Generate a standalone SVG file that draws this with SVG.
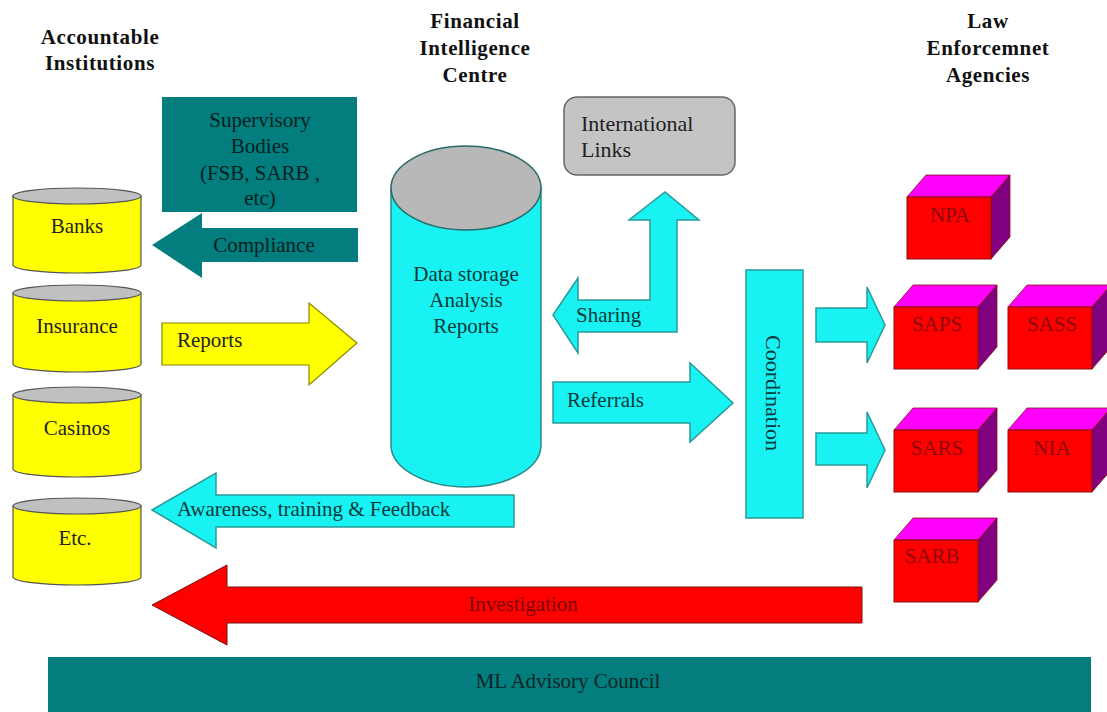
<svg xmlns="http://www.w3.org/2000/svg" width="1107" height="712" viewBox="0 0 1107 712">
<style>
text{font-family:"Liberation Serif","Times New Roman",serif;font-size:21px}
.hdr{font-weight:bold;fill:#111;text-anchor:middle;letter-spacing:0.6px}
.c{text-anchor:middle}
.dt{fill:#063a3a}
.dk{fill:#012222}
.cyl{fill:#ffff00;stroke:#555;stroke-width:1.2}
.cyltop{fill:#c0c0c0;stroke:#555;stroke-width:1.2}
.cya{fill:#19f2f2;stroke:#2a9a9a;stroke-width:1.5}
.teal{fill:#037d7d}
.red{fill:#ff0000;stroke:#7a1010;stroke-width:1}
.ylw{fill:#ffff00;stroke:#888800;stroke-width:1.2}
.front{fill:#ff0000;stroke:#8a1010;stroke-width:1}
.top{fill:#ff00ff;stroke:#8a1010;stroke-width:0.8}
.side{fill:#800080;stroke:#8a1010;stroke-width:0.8}
.cl{fill:#8b0a0a;text-anchor:middle}
</style>
<defs>
<g id="cube">
<polygon class="top" points="0,0 19,-22 103,-22 84,0"/>
<polygon class="side" points="84,0 103,-22 103,40 84,62"/>
<rect class="front" x="0" y="0" width="84" height="62"/>
</g>
</defs>
<rect width="1107" height="712" fill="#ffffff"/>

<g id="headers">
<text class="hdr" x="100" y="44">Accountable</text>
<text class="hdr" x="100" y="70">Institutions</text>
<text class="hdr" x="475" y="28">Financial</text>
<text class="hdr" x="475" y="55">Intelligence</text>
<text class="hdr" x="475" y="82">Centre</text>
<text class="hdr" x="988" y="28">Law</text>
<text class="hdr" x="988" y="55">Enforcemnet</text>
<text class="hdr" x="988" y="82">Agencies</text>
</g>

<g id="connectors">
<g id="compliance">
<path class="teal" d="M152 245 L202 213 L202 228 L358 228 L358 262 L202 262 L202 278 Z"/>
<text class="c dk" x="264" y="252">Compliance</text>
</g>
<g id="reports">
<path class="ylw" d="M162 323 L309 323 L309 303 L357 343 L309 385 L309 365 L162 365 Z"/>
<text x="177" y="347" fill="#222">Reports</text>
</g>
<g id="sharing">
<path class="cya" d="M553 315 L578 278 L578 300 L650 300 L650 220 L629 220 L665 192 L699 220 L677 220 L677 332 L578 332 L578 353 Z"/>
<text class="dt" x="576" y="322">Sharing</text>
</g>
<g id="referrals">
<path class="cya" d="M553 382 L690 382 L690 363 L733 403 L690 442 L690 423 L553 423 Z"/>
<text class="dt" x="567" y="407">Referrals</text>
</g>
<g id="awareness">
<path class="cya" d="M152 510 L216 473 L216 495 L514 495 L514 527 L216 527 L216 548 Z"/>
<text class="dt" x="177" y="516">Awareness, training &amp; Feedback</text>
</g>
<path class="cya" d="M816 308 L867 308 L867 287 L885 325 L867 363 L867 342 L816 342 Z"/>
<path class="cya" d="M816 433 L867 433 L867 412 L885 450 L867 488 L867 465 L816 465 Z"/>
<g id="investigation">
<path class="red" d="M152 605 L227 565 L227 587 L862 587 L862 623 L227 623 L227 645 Z"/>
<text x="523" y="611" fill="#7a0505" class="c">Investigation</text>
</g>
</g>

<g id="supervisory">
<rect class="teal" x="162" y="97" width="195" height="115"/>
<text class="c dk" x="260" y="127">Supervisory</text>
<text class="c dk" x="260" y="153">Bodies</text>
<text class="c dk" x="260" y="180">(FSB, SARB ,</text>
<text class="c dk" x="260" y="205">etc)</text>
</g>

<g id="banks">
<path class="cyl" d="M13 196 L13 265 A64 8 0 0 0 141 265 L141 196 Z"/>
<ellipse class="cyltop" cx="77" cy="196" rx="64" ry="8"/>
<text class="c" x="77" y="233" fill="#222">Banks</text>
</g>
<g id="insurance">
<path class="cyl" d="M13 293 L13 364 A64 8 0 0 0 141 364 L141 293 Z"/>
<ellipse class="cyltop" cx="77" cy="293" rx="64" ry="8"/>
<text class="c" x="77" y="333" fill="#222">Insurance</text>
</g>
<g id="casinos">
<path class="cyl" d="M13 395 L13 469 A64 8 0 0 0 141 469 L141 395 Z"/>
<ellipse class="cyltop" cx="77" cy="395" rx="64" ry="8"/>
<text class="c" x="77" y="435" fill="#222">Casinos</text>
</g>
<g id="etc">
<path class="cyl" d="M13 506 L13 577 A64 8 0 0 0 141 577 L141 506 Z"/>
<ellipse class="cyltop" cx="77" cy="506" rx="64" ry="8"/>
<text class="c" x="75" y="545" fill="#222">Etc.</text>
</g>

<g id="datastorage">
<path d="M391 188 L391 445 A75 42 0 0 0 541 445 L541 188 Z" fill="#19f2f2" stroke="#2a8a8a" stroke-width="1.5"/>
<ellipse cx="466" cy="188" rx="75" ry="42" fill="#b8b8b8" stroke="#2a6a6a" stroke-width="1.5"/>
<text class="c dt" x="466" y="281">Data storage</text>
<text class="c dt" x="466" y="307">Analysis</text>
<text class="c dt" x="466" y="333">Reports</text>
</g>

<g id="international">
<rect x="564" y="97" width="171" height="78" rx="13" fill="#c4c4c4" stroke="#666" stroke-width="1.5"/>
<text x="581" y="131" fill="#222" style="font-size:22px">International</text>
<text x="581" y="157" fill="#222" style="font-size:22px">Links</text>
</g>

<g id="coordination">
<rect x="746" y="270" width="57" height="248" class="cya"/>
<text class="c dt" transform="translate(766 393) rotate(90)" style="font-size:22px">Coordination</text>
</g>

<g id="npa">
<use href="#cube" transform="translate(907 197)"/>
<text class="cl" x="950" y="222">NPA</text>
</g>
<g id="saps">
<use href="#cube" transform="translate(894 307)"/>
<text class="cl" x="937" y="331">SAPS</text>
</g>
<g id="sass">
<use href="#cube" transform="translate(1008 307)"/>
<text class="cl" x="1052" y="331">SASS</text>
</g>
<g id="sars">
<use href="#cube" transform="translate(894 430)"/>
<text class="cl" x="937" y="455">SARS</text>
</g>
<g id="nia">
<use href="#cube" transform="translate(1008 430)"/>
<text class="cl" x="1052" y="455">NIA</text>
</g>
<g id="sarb">
<use href="#cube" transform="translate(894 540)"/>
<text class="cl" x="932" y="563">SARB</text>
</g>

<g id="mladvisory">
<rect x="48" y="657" width="1043" height="55" fill="#037d7d"/>
<text class="c" x="568" y="688" fill="#0e2626">ML Advisory Council</text>
</g>
</svg>
